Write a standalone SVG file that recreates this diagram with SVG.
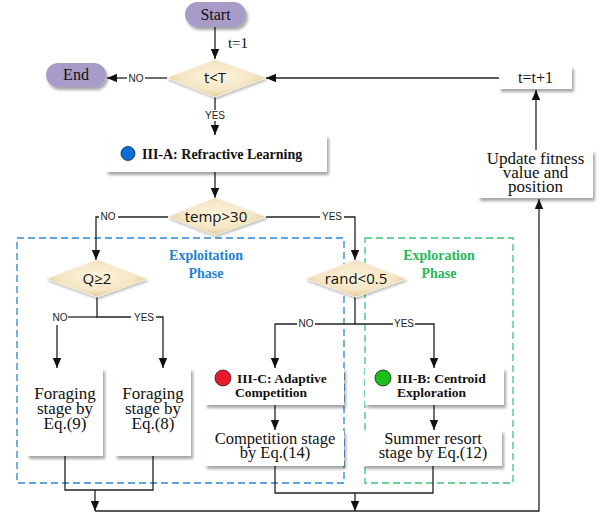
<svg xmlns="http://www.w3.org/2000/svg" width="612" height="515" viewBox="0 0 612 515">
<style>
.pill{fill:#a89bc8;filter:url(#sh)}
.box{fill:#fff;filter:url(#sh)}
.dia{fill:url(#dg);stroke:#f4ead4;stroke-width:1;filter:url(#sh2)}
.st{font-family:"Liberation Serif",serif;font-size:16px;fill:#111;text-anchor:middle}
.bt{font-family:"Liberation Serif",serif;font-size:13.5px;font-weight:bold;fill:#111}
.dt{font-family:"Open Sans","Liberation Sans",sans-serif;font-size:15px;fill:#111;text-anchor:middle}
.lb{font-family:"Liberation Sans",Arial,sans-serif;font-size:10px;fill:#222;text-anchor:middle}
.ph{font-family:"Liberation Serif",serif;font-size:14px;font-weight:bold;text-anchor:middle}
.ln{fill:none;stroke:#222;stroke-width:1.3}
.ar{marker-end:url(#ah)}
</style>
<defs>
<filter id="sh" x="-20%" y="-20%" width="140%" height="150%">
<feDropShadow dx="2" dy="3" stdDeviation="1.8" flood-color="#000" flood-opacity="0.35"/>
</filter>
<filter id="sh2" x="-20%" y="-20%" width="140%" height="150%">
<feDropShadow dx="1" dy="2" stdDeviation="1.2" flood-color="#000" flood-opacity="0.25"/>
</filter>
<radialGradient id="dg" cx="50%" cy="45%" r="60%">
<stop offset="0" stop-color="#fdf3dd"/>
<stop offset="0.6" stop-color="#f5e6c4"/>
<stop offset="1" stop-color="#dcc596"/>
</radialGradient>
<marker id="ah" markerUnits="userSpaceOnUse" markerWidth="10" markerHeight="10" viewBox="0 0 10 10" refX="10" refY="5" orient="auto">
<path d="M0,0.8 L10,5 L0,9.2 Z" fill="#111"/>
</marker>
</defs>

<g id="phases">
<rect x="17" y="238" width="327" height="245" fill="none" stroke="#2a86d6" stroke-width="1.3" stroke-dasharray="7,4"/>
<text class="ph" x="206" y="260" fill="#1f82cf">Exploitation</text>
<text class="ph" x="206" y="278" fill="#1f82cf">Phase</text>
<rect x="365" y="238" width="148" height="245" fill="none" stroke="#3cc47a" stroke-width="1.3" stroke-dasharray="7,4"/>
<text class="ph" x="439" y="260" fill="#1fb85a">Exploration</text>
<text class="ph" x="439" y="278" fill="#1fb85a">Phase</text>
</g>

<g id="connectors">
<path class="ln ar" d="M215,27 L215,59"/>
<text class="st" x="238" y="48" style="font-size:15px">t=1</text>
<path class="ln" d="M167,78 L145,78"/>
<path class="ln ar" d="M127,78 L107,78"/>
<text class="lb" x="136" y="82">NO</text>
<path class="ln ar" d="M499,78 L266,78"/>
<path class="ln ar" d="M536,150 L536,90"/>
<path class="ln" d="M215,97 L215,110"/>
<path class="ln ar" d="M215,121 L215,135"/>
<text class="lb" x="215" y="119">YES</text>
<path class="ln ar" d="M215,172 L215,198"/>
<path class="ln" d="M168,217 L118,217"/>
<path class="ln ar" d="M99,217 L96,217 L96,260"/>
<text class="lb" x="108" y="220">NO</text>
<path class="ln" d="M266,217 L320,217"/>
<path class="ln ar" d="M344,217 L355,217 L355,260"/>
<text class="lb" x="332" y="220">YES</text>
<path class="ln" d="M97,297 L97,317 L131,317"/>
<path class="ln" d="M68,317 L97,317"/>
<text class="lb" x="60" y="321">NO</text>
<path class="ln ar" d="M57,325 L57,368"/>
<text class="lb" x="144" y="321">YES</text>
<path class="ln ar" d="M156,317 L163,317 L163,368"/>
<path class="ln" d="M65,456 L65,490 L153,490 L153,456"/>
<path class="ln ar" d="M95,490 L95,511"/>
<path class="ln" d="M95,511 L539,511 L539,250"/>
<path class="ln ar" d="M539,250 L539,199"/>
<path class="ln" d="M355,297 L355,324 L393,324"/>
<path class="ln ar" d="M415,324 L434,324 L434,368"/>
<text class="lb" x="404" y="327">YES</text>
<path class="ln" d="M355,324 L315,324"/>
<path class="ln ar" d="M297,324 L275,324 L275,368"/>
<text class="lb" x="306" y="327">NO</text>
<path class="ln ar" d="M275,405 L275,430"/>
<path class="ln ar" d="M434,405 L434,430"/>
<path class="ln" d="M275,466 L275,493 L433,493 L433,466"/>
<path class="ln ar" d="M355,493 L355,511"/>
</g>

<g id="start">
<rect class="pill" x="185" y="2" width="61" height="25" rx="12.5"/>
<text class="st" x="215.5" y="20">Start</text>
</g>
<g id="end">
<rect class="pill" x="46" y="63" width="60" height="24" rx="12"/>
<text class="st" x="76" y="80">End</text>
</g>
<g id="cond-t">
<polygon class="dia" points="215,60 266,78 215,97 167,78"/>
<text class="dt" x="215" y="83">t&lt;T</text>
</g>
<g id="inc">
<rect class="box" x="499" y="66" width="73" height="23"/>
<text class="st" x="535.5" y="83">t=t+1</text>
</g>
<g id="update">
<rect class="box" x="478" y="150" width="115" height="48"/>
<text class="st" x="535.5" y="164" style="font-size:17px">Update fitness</text>
<text class="st" x="535.5" y="178" style="font-size:17px">value and</text>
<text class="st" x="535.5" y="192" style="font-size:17px">position</text>
</g>
<g id="refractive">
<rect class="box" x="106" y="135" width="221" height="37"/>
<circle cx="128" cy="153.5" r="7" fill="#0b6fd8" stroke="#123" stroke-width="0.8"/>
<text class="bt" x="142" y="158.5" style="font-size:14px">III-A: Refractive Learning</text>
</g>
<g id="cond-temp">
<polygon class="dia" points="215,198 266,217 215,235 168,217"/>
<text class="dt" x="216" y="222">temp&gt;30</text>
</g>
<g id="cond-q">
<polygon class="dia" points="97,260 147,279 97,297 47,279"/>
<text class="dt" x="97" y="284">Q≥2</text>
</g>
<g id="cond-rand">
<polygon class="dia" points="356,260 406,279 356,297 306,279"/>
<text class="dt" x="356" y="284">rand&lt;0.5</text>
</g>
<g id="forage9">
<rect class="box" x="27" y="368" width="76" height="88"/>
<text class="st" x="65" y="399" style="font-size:17px">Foraging</text>
<text class="st" x="65" y="414" style="font-size:17px">stage by</text>
<text class="st" x="65" y="429" style="font-size:17px">Eq.(9)</text>
</g>
<g id="forage8">
<rect class="box" x="115" y="368" width="76" height="88"/>
<text class="st" x="153" y="399" style="font-size:17px">Foraging</text>
<text class="st" x="153" y="414" style="font-size:17px">stage by</text>
<text class="st" x="153" y="429" style="font-size:17px">Eq.(8)</text>
</g>
<g id="adaptive">
<rect class="box" x="205" y="368" width="139" height="37"/>
<circle cx="223" cy="378" r="8" fill="#e8192c" stroke="#222" stroke-width="0.8"/>
<text class="bt" x="237" y="383">III-C: Adaptive</text>
<text class="bt" x="235" y="397">Competition</text>
</g>
<g id="competition">
<rect class="box" x="205" y="431" width="139" height="35"/>
<text class="st" x="275" y="444" style="font-size:16.5px">Competition stage</text>
<text class="st" x="275" y="458" style="font-size:16.5px">by Eq.(14)</text>
</g>
<g id="centroid">
<rect class="box" x="365" y="368" width="139" height="37"/>
<circle cx="383" cy="378" r="8" fill="#19c019" stroke="#222" stroke-width="0.8"/>
<text class="bt" x="397" y="383">III-B: Centroid</text>
<text class="bt" x="397" y="397">Exploration</text>
</g>
<g id="summer">
<rect class="box" x="363" y="430" width="139" height="36"/>
<text class="st" x="433" y="444" style="font-size:16.5px">Summer resort</text>
<text class="st" x="433" y="458" style="font-size:16.5px">stage by Eq.(12)</text>
</g>
</svg>
